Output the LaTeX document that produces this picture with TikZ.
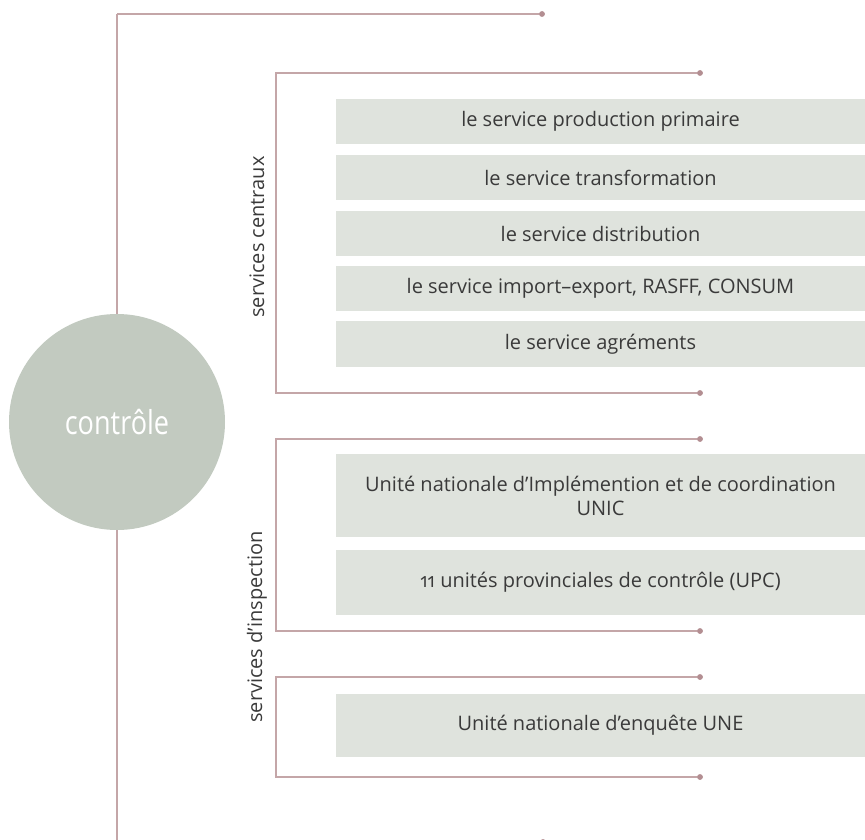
\documentclass[tikz,border=0pt]{standalone}
\usepackage{fontspec}
\setmainfont{Open Sans}
\newfontfamily\condfont[FakeStretch=0.82]{Open Sans}
\definecolor{linec}{HTML}{C4A6A8}
\definecolor{dotc}{HTML}{B38E92}
\definecolor{circc}{HTML}{C2CAC0}
\definecolor{boxc}{HTML}{DFE3DD}
\definecolor{textc}{HTML}{3A3A3A}
\begin{document}
\begin{tikzpicture}[x=1pt,y=-1pt,
  conn/.style={draw=linec, line width=1.2pt},
  dotn/.style={circle, fill=dotc, inner sep=0pt, minimum size=5.5pt},
  itembox/.style={fill=boxc, minimum width=529pt, inner sep=0pt, text=textc,
    font=\fontsize{20}{24}\selectfont, align=center},
  lab/.style={rotate=90, text=textc, font=\fontsize{20}{24}\selectfont, inner sep=0pt}]
\useasboundingbox (0,0) rectangle (865,840);

% main spine
\coordinate (t0) at (117,14);
\node[dotn] (t1) at (542,14) {};
\coordinate (b0) at (117,842);
\node[dotn] (b1) at (543,842) {};
\draw[conn] (t0) -- (t1.center);
\draw[conn] (t0) -- (b0) -- (b1.center);
\node[dotn] at (t1) {};
\node[dotn] at (b1) {};
\node[circle, fill=circc, minimum size=216pt, inner sep=0pt, text=white,
  font=\condfont\fontsize{33}{36}\selectfont] (ctrl) at (117,422) {contrôle};

% bracket 1
\coordinate (a1) at (276,73);
\coordinate (a2) at (276,393);
\node[dotn] (a1e) at (700,73) {};
\node[dotn] (a2e) at (700,393) {};
\draw[conn] (a1e.center) -- (a1) -- (a2) -- (a2e.center);
\node[dotn] at (a1e) {};
\node[dotn] at (a2e) {};

% bracket 2
\coordinate (b21) at (276,439);
\coordinate (b22) at (276,631);
\node[dotn] (b21e) at (700,439) {};
\node[dotn] (b22e) at (700,631) {};
\draw[conn] (b21e.center) -- (b21) -- (b22) -- (b22e.center);
\node[dotn] at (b21e) {};
\node[dotn] at (b22e) {};

% bracket 3
\coordinate (b31) at (276,677);
\coordinate (b32) at (276,777);
\node[dotn] (b31e) at (700,677) {};
\node[dotn] (b32e) at (700,777) {};
\draw[conn] (b31e.center) -- (b31) -- (b32) -- (b32e.center);
\node[dotn] at (b31e) {};
\node[dotn] at (b32e) {};

% labels
\node[lab] (l1) at (257,237) {services centraux};
\node[lab] (l2) at (257,627) {services d’inspection};

% boxes
\node[itembox, minimum height=45pt] (s1) at (600.5,121.5) {le service production primaire};
\node[itembox, minimum height=45pt] (s2) at (600.5,177.5) {le service transformation};
\node[itembox, minimum height=45pt] (s3) at (600.5,233.5) {le service distribution};
\node[itembox, minimum height=45pt] (s4) at (600.5,288.5) {le service import–export, RASFF, CONSUM};
\node[itembox, minimum height=46pt] (s5) at (600.5,344) {le service agréments};

\node[itembox, minimum height=83pt] (i1) at (600.5,495.5) {Unité nationale d’Implémention et de coordination\\UNIC};
\node[itembox, minimum height=65pt] (i2) at (600.5,582.5) {{\addfontfeature{Numbers=OldStyle}11} unités provinciales de contrôle (UPC)};
\node[itembox, minimum height=63pt] (e1) at (600.5,725.5) {Unité nationale d’enquête UNE};
\end{tikzpicture}
\end{document}
